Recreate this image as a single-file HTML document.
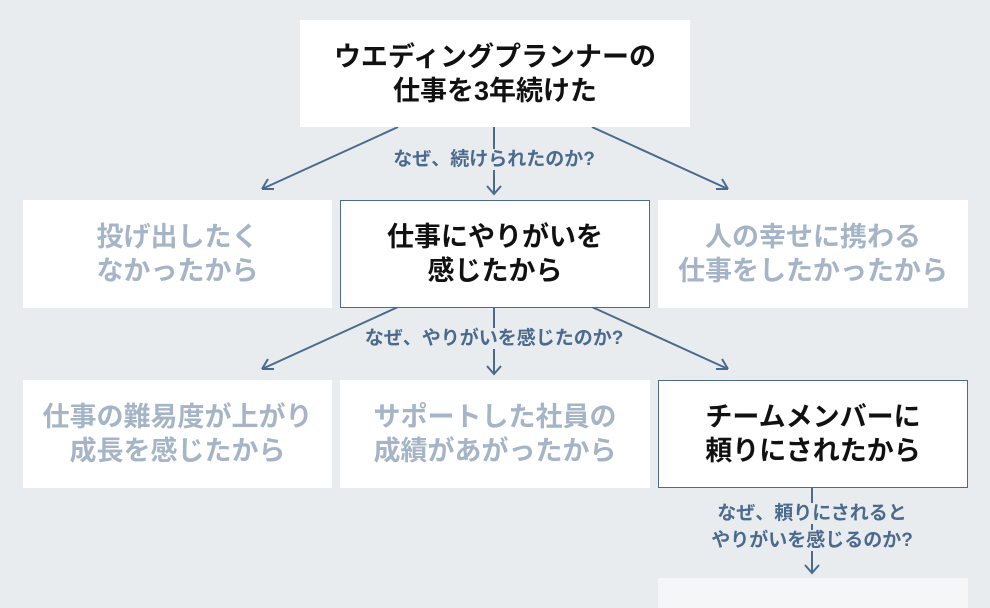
<!DOCTYPE html>
<html><head><meta charset="utf-8"><style>
body{margin:0;width:990px;height:600px;background:#e9ecee;position:relative;overflow:hidden;font-family:"Liberation Sans","Noto Sans CJK JP",sans-serif;}
.b{position:absolute;background:#fff;display:flex;align-items:center;justify-content:center;text-align:center;font-weight:bold;font-size:27px;line-height:34px;box-sizing:border-box;}
.f{color:#a5b5c7;}
.d{color:#111;border:1px solid #4d6a8c;}
.l{position:absolute;color:#4a6a8e;font-weight:bold;font-size:19px;line-height:27px;text-align:center;white-space:nowrap;}
.l span{background:#e9ecee;padding:0 2px}
svg{position:absolute;left:0;top:0}
</style></head><body>
<svg width="990" height="600"><g stroke="#4a6a8e" stroke-width="2" fill="none">
<path d="M398 127 L262 189 M262 189 l6 -10 M262 189 l12 0"/>
<path d="M494 127 V194 M487 186 l7 8 l7 -8"/>
<path d="M592 127 L728 189 M728 189 l-12 0 M728 189 l-6 -10"/>
<path d="M398 307 L262 369 M262 369 l6 -10 M262 369 l12 0"/>
<path d="M494 307 V374 M487 366 l7 8 l7 -8"/>
<path d="M592 307 L728 369 M728 369 l-12 0 M728 369 l-6 -10"/>
<path d="M812 487 V573 M805 565 l7 8 l7 -8"/>
</g></svg>
<div class="b" style="left:300px;top:20px;width:390px;height:107px;color:#111">ウエディングプランナーの<br>仕事を3年続けた</div>
<div class="l" style="left:344px;top:146px;width:300px"><span>なぜ、続けられたのか?</span></div>
<div class="b f" style="left:23px;top:200px;width:309px;height:108px">投げ出したく<br>なかったから</div>
<div class="b d" style="left:340px;top:200px;width:310px;height:108px">仕事にやりがいを<br>感じたから</div>
<div class="b f" style="left:658px;top:200px;width:310px;height:108px">人の幸せに携わる<br>仕事をしたかったから</div>
<div class="l" style="left:334px;top:325px;width:320px"><span>なぜ、やりがいを感じたのか?</span></div>
<div class="b f" style="left:23px;top:380px;width:309px;height:108px">仕事の難易度が上がり<br>成長を感じたから</div>
<div class="b f" style="left:340px;top:380px;width:310px;height:108px">サポートした社員の<br>成績があがったから</div>
<div class="b d" style="left:658px;top:380px;width:310px;height:108px">チームメンバーに<br>頼りにされたから</div>
<div class="l" style="left:662px;top:500px;width:300px"><span>なぜ、頼りにされると</span><br><span>やりがいを感じるのか?</span></div>
<div class="b" style="left:658px;top:578px;width:310px;height:30px;background:#f4f6f7"></div>
</body></html>
